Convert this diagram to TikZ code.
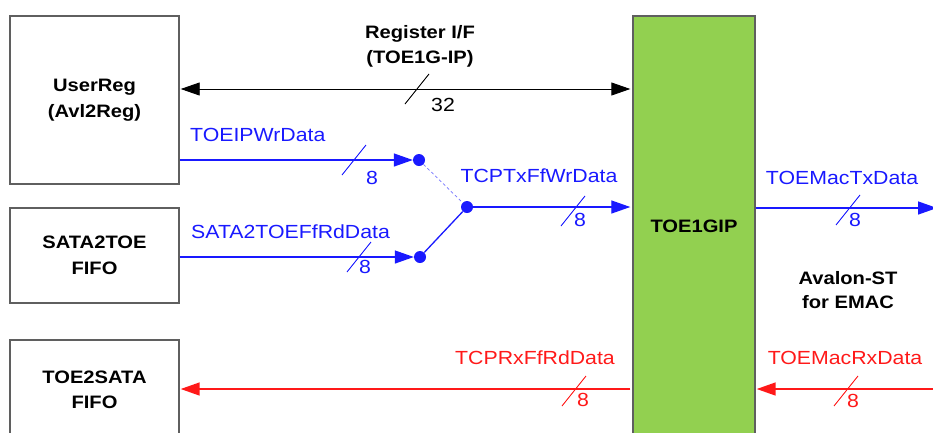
\documentclass[tikz,border=0pt]{standalone}
\usepackage{fontspec}
\setmainfont{Liberation Sans}[FakeStretch=1.12]
\usetikzlibrary{arrows.meta}
\definecolor{bblue}{RGB}{25,25,255}
\definecolor{rred}{RGB}{255,25,25}
\definecolor{ggreen}{RGB}{146,208,80}
\definecolor{bgray}{RGB}{95,95,95}
\begin{document}
\begin{tikzpicture}[x=1pt,y=-1pt,
  box/.style={draw=bgray,line width=1.4pt,fill=white,inner sep=0pt,align=center,
    font=\fontsize{18}{26}\selectfont\bfseries},
  hdr/.style={align=center,inner sep=0pt,font=\fontsize{18}{25}\selectfont\bfseries},
  lbl/.style={inner sep=0pt,font=\fontsize{19}{22}\selectfont},
  tip/.style={-{Triangle[length=19pt,width=13pt]}},
  dualtip/.style={{Triangle[length=19pt,width=13pt]}-{Triangle[length=19pt,width=13pt]}},
  bline/.style={draw=bblue,line width=1.3pt},
  rline/.style={draw=rred,line width=1.5pt},
  dot/.style={circle,fill=bblue,inner sep=0pt,minimum size=12pt},
  slash/.style={line width=0.9pt}]
\useasboundingbox (0,0) rectangle (933,432);

% blocks
\node[box,minimum width=169pt,minimum height=168pt] (userreg) at (94.5,100) {UserReg\\(Avl2Reg)};
\node[box,minimum width=169pt,minimum height=95pt] (sata) at (94.5,255.5) {SATA2TOE\\FIFO};
\node[box,minimum width=169pt,minimum height=100pt,font=\fontsize{18}{25}\selectfont\bfseries] (toesata) at (94.5,390) {TOE2SATA\\FIFO};
\node[box,fill=ggreen,minimum width=122pt,minimum height=420pt] (toe) at (694,226) {TOE1GIP};

% headings
\node[hdr] (regif) at (420,46.5) {Register I/F\\(TOE1G-IP)};
\node[hdr,font=\fontsize{18}{24}\selectfont\bfseries] (avalon) at (848,290) {Avalon-ST\\for EMAC};

% helper coordinates
\coordinate (yreg) at (0,89);
\coordinate (ywr) at (0,160);
\coordinate (yrd) at (0,257);
\coordinate (ytx) at (0,208);
\coordinate (yrx) at (0,389);
\coordinate (txend) at (937,208);
\coordinate (rxstart) at (933,389);

% register interface
\draw[dualtip,line width=0.9pt] ([xshift=1pt]userreg.east |- yreg) -- ([xshift=-2pt]toe.west |- yreg);
\draw[slash] (405,104) -- (429,74);
\node[lbl] (n32) at (443,105) {32};

% blue mux
\node[dot] (da) at (419,160) {};
\node[dot] (db) at (420,257) {};
\node[dot] (jn) at (467,207) {};
\draw[bline,tip] (userreg.east |- ywr) -- (da.west);
\draw[bline,tip] (sata.east |- yrd) -- (db.west);
\draw[draw=bblue!60,line width=0.7pt,dash pattern=on 3pt off 2.5pt] (da) -- (jn);
\draw[bline] (db) -- (jn);
\draw[bline,tip] (jn) -- ([xshift=-2pt]toe.west |- jn);
\draw[bline,tip] (toe.east |- ytx) -- (txend);

\draw[slash,bblue] (342,175) -- (366,145);
\node[lbl,text=bblue] (w8) at (372,178) {8};
\draw[slash,bblue] (347,272) -- (371,242);
\node[lbl,text=bblue] (r8) at (365,267) {8};
\draw[slash,bblue] (561,226) -- (585,196);
\node[lbl,text=bblue] (t8) at (580,220) {8};
\draw[slash,bblue] (836,225) -- (860,195);
\node[lbl,text=bblue] (m8) at (855,220) {8};

\node[lbl,text=bblue,anchor=west] (wrlbl) at (190,135) {TOEIPWrData};
\node[lbl,text=bblue,anchor=west] (rdlbl) at (191,232) {SATA2TOEFfRdData};
\node[lbl,text=bblue] (txflbl) at (539,176) {TCPTxFfWrData};
\node[lbl,text=bblue] (txmlbl) at (842,178) {TOEMacTxData};

% red receive path
\draw[rline,tip] ([xshift=-2pt]toe.west |- yrx) -- ([xshift=1pt]toesata.east |- yrx);
\draw[rline,tip] (rxstart) -- ([xshift=1pt]toe.east |- yrx);
\draw[slash,rred] (562,406) -- (586,376);
\node[lbl,text=rred] (rf8) at (583,400) {8};
\draw[slash,rred] (834,406) -- (858,376);
\node[lbl,text=rred] (rm8) at (853,401) {8};
\node[lbl,text=rred] (rxflbl) at (535,358) {TCPRxFfRdData};
\node[lbl,text=rred] (rxmlbl) at (845,358) {TOEMacRxData};
\end{tikzpicture}
\end{document}
